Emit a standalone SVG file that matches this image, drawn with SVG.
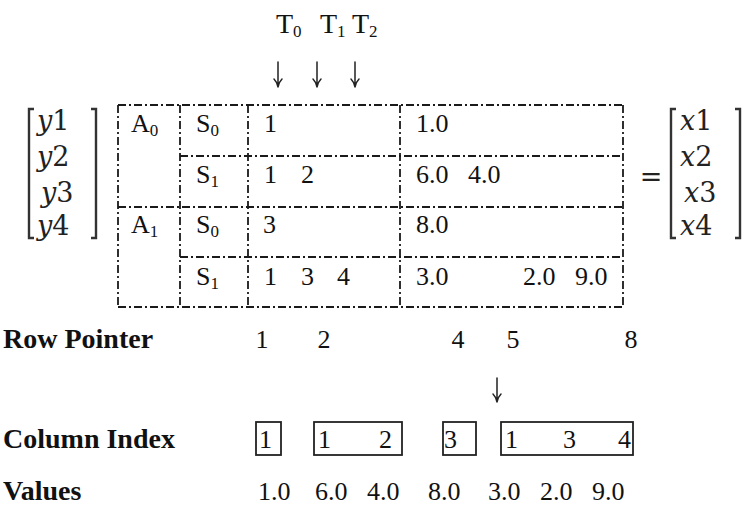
<svg xmlns="http://www.w3.org/2000/svg" width="747" height="506" viewBox="0 0 747 506">
  <style>
    text { font-family: "Liberation Serif", "Times New Roman", serif; fill: #111; }
    .n { font-size: 26px; }
    .lbl { font-size: 28px; font-weight: bold; }
    .t { font-size: 28px; }
    .m { font-family: "DejaVu Serif", "Liberation Serif", serif; font-size: 27px; fill: #222; }
    .sub { font-size: 17px; }
    .grid line { stroke: #1a1a1a; stroke-width: 1.8; stroke-dasharray: 8 3 2 3; }
    .box { fill: none; stroke: #222; stroke-width: 1.8; }
    .br { fill: none; stroke: #333; stroke-width: 2.4; }
    .arr { fill: none; stroke: #222; stroke-width: 1.5; stroke-linecap: round; }
  </style>

  <!-- thread labels and arrows -->
  <g id="threads">
    <text class="t" x="276" y="33">T<tspan class="sub" dy="4">0</tspan></text>
    <text class="t" x="320" y="33">T<tspan class="sub" dy="4">1</tspan></text>
    <text class="t" x="352" y="33">T<tspan class="sub" dy="4">2</tspan></text>
    <path class="arr" d="M278,62 V87 M274,79 Q277,82 278,87 Q279,82 282,79"/>
    <path class="arr" d="M317,62 V87 M313,79 Q316,82 317,87 Q318,82 321,79"/>
    <path class="arr" d="M355,62 V87 M351,79 Q354,82 355,87 Q356,82 359,79"/>
  </g>

  <!-- y vector -->
  <g id="yvec">
    <path class="br" d="M34,109 H29 V238 H34"/>
    <path class="br" d="M91,109 H96 V238 H91"/>
    <text class="m" x="37" y="130"><tspan font-style="italic">y</tspan>1</text>
    <text class="m" x="37" y="166"><tspan font-style="italic">y</tspan>2</text>
    <text class="m" x="41" y="202"><tspan font-style="italic">y</tspan>3</text>
    <text class="m" x="37" y="235"><tspan font-style="italic">y</tspan>4</text>
  </g>

  <!-- blocked matrix: dashed grid, each edge drawn once -->
  <g id="cells" class="grid">
    <line x1="118" y1="105" x2="623" y2="105"/>
    <line x1="180" y1="156" x2="623" y2="156"/>
    <line x1="118" y1="207" x2="623" y2="207"/>
    <line x1="180" y1="257" x2="623" y2="257"/>
    <line x1="118" y1="307" x2="623" y2="307"/>
    <line x1="118" y1="105" x2="118" y2="307"/>
    <line x1="180" y1="105" x2="180" y2="307"/>
    <line x1="248" y1="105" x2="248" y2="307"/>
    <line x1="400" y1="105" x2="400" y2="307"/>
    <line x1="623" y1="105" x2="623" y2="307"/>
  </g>

  <g id="A0"><text class="n" x="131" y="132">A<tspan class="sub" dy="4">0</tspan></text></g>
  <g id="A1"><text class="n" x="131" y="233">A<tspan class="sub" dy="4">1</tspan></text></g>
  <g id="A0S0"><text class="n" x="196" y="132">S<tspan class="sub" dy="4">0</tspan></text></g>
  <g id="A0S1"><text class="n" x="196" y="183">S<tspan class="sub" dy="4">1</tspan></text></g>
  <g id="A1S0"><text class="n" x="196" y="233">S<tspan class="sub" dy="4">0</tspan></text></g>
  <g id="A1S1"><text class="n" x="196" y="285">S<tspan class="sub" dy="4">1</tspan></text></g>

  <g id="idx-rows">
    <text class="n" x="264" y="132">1</text>
    <text class="n" x="264" y="183">1</text>
    <text class="n" x="301" y="183">2</text>
    <text class="n" x="263" y="233">3</text>
    <text class="n" x="264" y="285">1</text>
    <text class="n" x="301" y="285">3</text>
    <text class="n" x="337" y="285">4</text>
  </g>

  <g id="val-rows">
    <text class="n" x="416" y="132">1.0</text>
    <text class="n" x="416" y="183">6.0</text>
    <text class="n" x="468" y="183">4.0</text>
    <text class="n" x="416" y="233">8.0</text>
    <text class="n" x="416" y="285">3.0</text>
    <text class="n" x="523" y="285">2.0</text>
    <text class="n" x="575" y="285">9.0</text>
  </g>

  <!-- = x vector -->
  <g id="xvec">
    <text class="m" x="651" y="186" text-anchor="middle">=</text>
    <path class="br" d="M676,109 H671 V238 H676"/>
    <path class="br" d="M735,109 H740 V238 H735"/>
    <text class="m" x="680" y="130"><tspan font-style="italic">x</tspan>1</text>
    <text class="m" x="680" y="166"><tspan font-style="italic">x</tspan>2</text>
    <text class="m" x="684" y="202"><tspan font-style="italic">x</tspan>3</text>
    <text class="m" x="680" y="235"><tspan font-style="italic">x</tspan>4</text>
  </g>

  <!-- row pointer array -->
  <g id="rowptr">
    <text class="lbl" x="3" y="348">Row Pointer</text>
    <text class="n" x="262" y="348" text-anchor="middle">1</text>
    <text class="n" x="324" y="348" text-anchor="middle">2</text>
    <text class="n" x="458" y="348" text-anchor="middle">4</text>
    <text class="n" x="513" y="348" text-anchor="middle">5</text>
    <text class="n" x="631" y="348" text-anchor="middle">8</text>
    <path class="arr" d="M497,378 V402 M493,394 Q496,397 497,402 Q498,397 501,394"/>
  </g>

  <!-- column index array -->
  <g id="colidx">
    <text class="lbl" x="3" y="448">Column Index</text>
    <rect class="box" x="256" y="422" width="25" height="33"/>
    <rect class="box" x="314" y="422" width="88" height="33"/>
    <rect class="box" x="443" y="422" width="33" height="33"/>
    <rect class="box" x="501" y="422" width="132" height="33"/>
    <text class="n" x="259" y="448">1</text>
    <text class="n" x="318" y="448">1</text>
    <text class="n" x="379" y="448">2</text>
    <text class="n" x="444" y="448">3</text>
    <text class="n" x="505" y="448">1</text>
    <text class="n" x="563" y="448">3</text>
    <text class="n" x="618" y="448">4</text>
  </g>

  <!-- values array -->
  <g id="values">
    <text class="lbl" x="3" y="500">Values</text>
    <text class="n" x="258" y="500">1.0</text>
    <text class="n" x="315" y="500">6.0</text>
    <text class="n" x="367" y="500">4.0</text>
    <text class="n" x="428" y="500">8.0</text>
    <text class="n" x="488" y="500">3.0</text>
    <text class="n" x="540" y="500">2.0</text>
    <text class="n" x="592" y="500">9.0</text>
  </g>
</svg>
